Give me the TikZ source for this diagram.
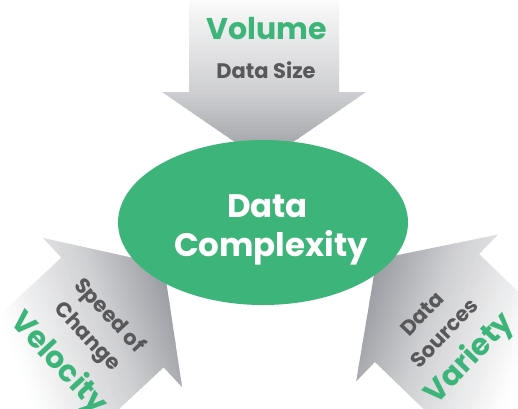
\documentclass[tikz,border=0pt]{standalone}
\usepackage{fontspec}
\setmainfont{Poppins}
\usetikzlibrary{shapes.geometric}
\definecolor{dcgreen}{HTML}{3DB47A}
\definecolor{dcgray}{HTML}{58585B}
\definecolor{arrdark}{HTML}{999AA0}
% #1,#2 centre of the head's base, #3 direction of the tip, #4 turn of the gradient from the tip direction
\newcommand{\dcarrow}[4]{%
  \begin{scope}
    \clip[shift={(#1,#2)}, rotate=#3]
      (-140,-75) -- (0,-75) -- (0,-102) -- (70,0) -- (0,102) -- (0,75) -- (-140,75) -- cycle;
    \begin{scope}[shift={(#1,#2)}, rotate=#3, xshift=70pt, rotate=#4]
      \foreach \s in {-260,-256,...,8} {
        \pgfmathsetmacro\p{\s>-71 ? min(100,100+0.75*(\s+2)) : max(0,47.5+0.47*(\s+72))}
        \fill[arrdark!\p!white] (\s,-330) rectangle (\s+4.6,330);
      }
    \end{scope}
  \end{scope}}
\begin{document}
\begin{tikzpicture}[x=1pt,y=1pt,
  title/.style={text=dcgreen, font=\bfseries\fontsize{30}{30}\selectfont, inner sep=0pt, text height=21pt, text depth=0pt},
  sub/.style={text=dcgray, font=\bfseries\fontsize{21}{21}\selectfont, inner sep=0pt, text height=14.7pt, text depth=0pt},
  core/.style={text=white, font=\bfseries\fontsize{32.5}{32.5}\selectfont, inner sep=0pt, text height=22.7pt, text depth=0pt}]
\useasboundingbox (0,0) rectangle (518,408);
\fill[white] (0,0) rectangle (518,408);
\clip (0,0) rectangle (518,408);
\dcarrow{264}{316}{-90}{0}
\dcarrow{112.5}{95.5}{43}{-23}
\dcarrow{427}{100}{136}{24}
\node[ellipse, fill=dcgreen, minimum width=290pt, minimum height=165pt, inner sep=0pt] (core) at (263,185.5) {};
\node[core] (coreA) at (267.5,202) {Data};
\node[core] (coreB) at (271,162.5) {Complexity};
\node[title] (volume) at (267,379) {Volume};
\node[sub] (size) at (266,336.5) {Data Size};
\node[sub, rotate=-47] (speed) at (110,93) {Speed of};
\node[sub, rotate=-47] (change) at (88,72) {Change};
\node[title, rotate=-47] (velocity) at (60,46) {Velocity};
\node[sub, rotate=46] (dsrc) at (422,94) {Data};
\node[sub, rotate=46] (sources) at (444,75) {Sources};
\node[title, rotate=46] (variety) at (468,51) {Variety};
\end{tikzpicture}
\end{document}
